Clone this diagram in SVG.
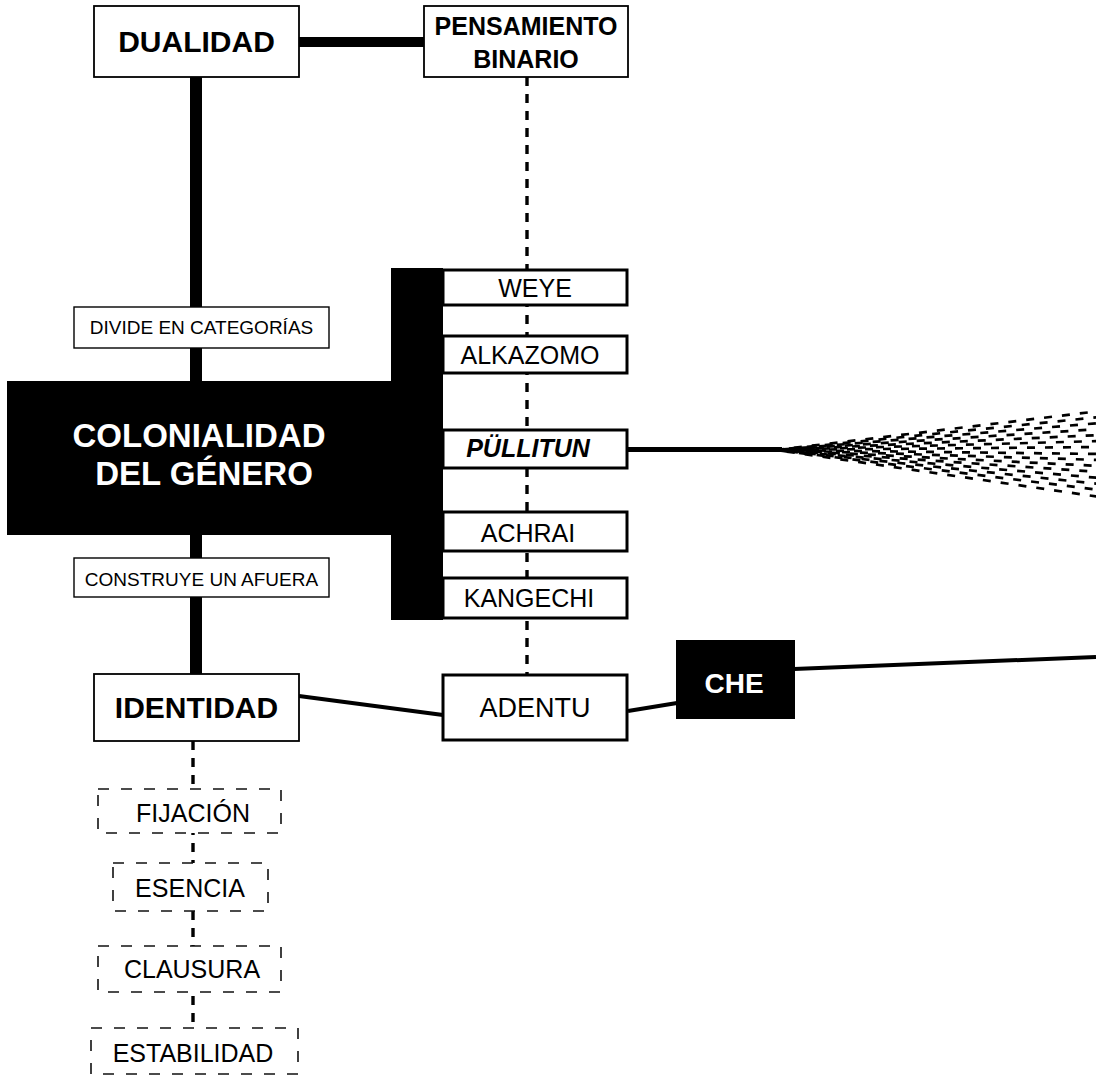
<svg xmlns="http://www.w3.org/2000/svg" width="1096" height="1079" viewBox="0 0 1096 1079">
  <style>
    text { font-family: "Liberation Sans", Arial, Helvetica, sans-serif; fill: #000; text-anchor: middle; }
    .b { font-weight: bold; }
    .w { fill: #fff; }
    .thin { fill: #fff; stroke: #000; stroke-width: 1.8; }
    .label { fill: #fff; stroke: #000; stroke-width: 1.4; }
    .item { fill: #fff; stroke: #000; stroke-width: 3; }
    .dbox { fill: #fff; stroke: #111; stroke-width: 1.6; stroke-dasharray: 11 12; }
    .solid { stroke: #000; fill: none; }
    .dash { stroke: #000; fill: none; stroke-width: 3.4; stroke-dasharray: 9 8; }
    .fan line { stroke: #000; stroke-width: 2.7; stroke-dasharray: 8 10; }
  </style>

  <!-- connectors -->
  <g id="connectors">
    <line class="solid" x1="299" y1="42" x2="424" y2="42" stroke-width="10"/>
    <line class="solid" x1="196" y1="77" x2="196" y2="674" stroke-width="12"/>
    <line class="dash" x1="527" y1="77" x2="527" y2="675"/>
    <line class="dash" x1="193" y1="741" x2="193" y2="1028" stroke-width="4"/>
    <line class="solid" x1="299" y1="696" x2="443" y2="715" stroke-width="4"/>
    <line class="solid" x1="628" y1="711" x2="677" y2="703" stroke-width="4"/>
    <line class="solid" x1="794" y1="669" x2="1096" y2="657" stroke-width="4"/>
    <line class="solid" x1="628" y1="449.5" x2="782" y2="449.5" stroke-width="5"/>
    <!-- spreading bundle of dashed rays -->
    <g class="fan">
      <line x1="776" y1="450" x2="1100" y2="411" stroke-dashoffset="0"/>
      <line x1="776" y1="450" x2="1100" y2="417" stroke-dashoffset="5"/>
      <line x1="776" y1="450" x2="1100" y2="423" stroke-dashoffset="11"/>
      <line x1="776" y1="450" x2="1100" y2="429" stroke-dashoffset="3"/>
      <line x1="776" y1="450" x2="1100" y2="435" stroke-dashoffset="14"/>
      <line x1="776" y1="450" x2="1100" y2="441" stroke-dashoffset="8"/>
      <line x1="776" y1="450" x2="1100" y2="447" stroke-dashoffset="1"/>
      <line x1="776" y1="450" x2="1100" y2="454" stroke-dashoffset="12"/>
      <line x1="776" y1="450" x2="1100" y2="460" stroke-dashoffset="6"/>
      <line x1="776" y1="450" x2="1100" y2="466" stroke-dashoffset="16"/>
      <line x1="776" y1="450" x2="1100" y2="472" stroke-dashoffset="2"/>
      <line x1="776" y1="450" x2="1100" y2="478" stroke-dashoffset="10"/>
      <line x1="776" y1="450" x2="1100" y2="484" stroke-dashoffset="4"/>
      <line x1="776" y1="450" x2="1100" y2="490" stroke-dashoffset="13"/>
      <line x1="776" y1="450" x2="1100" y2="497" stroke-dashoffset="7"/>
    </g>
  </g>

  <!-- top row -->
  <g id="dualidad">
    <rect class="thin" x="94" y="6" width="205" height="71"/>
    <text class="b" x="196.5" y="52" font-size="30">DUALIDAD</text>
  </g>
  <g id="pensamiento-binario">
    <rect class="thin" x="424" y="6" width="204" height="71"/>
    <text class="b" x="526" y="35" font-size="25">PENSAMIENTO</text>
    <text class="b" x="526" y="68" font-size="25">BINARIO</text>
  </g>

  <!-- labels on the main vertical -->
  <g id="divide">
    <rect class="label" x="74" y="307" width="255" height="41"/>
    <text x="201.5" y="334" font-size="19">DIVIDE EN CATEGORÍAS</text>
  </g>
  <g id="construye">
    <rect class="label" x="74" y="558" width="255" height="39"/>
    <text x="201.5" y="586" font-size="19">CONSTRUYE UN AFUERA</text>
  </g>

  <!-- central block -->
  <g id="colonialidad">
    <rect x="7" y="381" width="390" height="154" fill="#000"/>
    <rect x="391" y="268" width="52" height="352" fill="#000"/>
    <text class="b w" x="199" y="447" font-size="33">COLONIALIDAD</text>
    <text class="b w" x="204" y="485" font-size="33">DEL GÉNERO</text>
  </g>

  <!-- stacked terms -->
  <g id="weye">
    <rect class="item" x="443" y="270" width="184" height="35"/>
    <text x="535" y="297" font-size="25">WEYE</text>
  </g>
  <g id="alkazomo">
    <rect class="item" x="443" y="336" width="184" height="37"/>
    <text x="530" y="364" font-size="25">ALKAZOMO</text>
  </g>
  <g id="pullitun">
    <rect class="item" x="443" y="430" width="184" height="38"/>
    <text class="b" x="528" y="457" font-size="25" font-style="italic">PÜLLITUN</text>
  </g>
  <g id="achrai">
    <rect class="item" x="443" y="512" width="184" height="39"/>
    <text x="528" y="542" font-size="25">ACHRAI</text>
  </g>
  <g id="kangechi">
    <rect class="item" x="443" y="578" width="184" height="40"/>
    <text x="529" y="607" font-size="25">KANGECHI</text>
  </g>

  <!-- bottom row -->
  <g id="identidad">
    <rect class="thin" x="94" y="674" width="205" height="67"/>
    <text class="b" x="196.5" y="718" font-size="30">IDENTIDAD</text>
  </g>
  <g id="adentu">
    <rect class="item" x="443" y="675" width="184" height="65"/>
    <text x="535" y="717" font-size="27">ADENTU</text>
  </g>
  <g id="che">
    <rect x="676" y="640" width="119" height="79" fill="#000"/>
    <text class="b w" x="734" y="693" font-size="28">CHE</text>
  </g>

  <!-- dashed chain below identity -->
  <g id="fijacion">
    <rect class="dbox" x="98" y="789" width="183" height="44"/>
    <text x="193" y="822" font-size="25">FIJACIÓN</text>
  </g>
  <g id="esencia">
    <rect class="dbox" x="113" y="863" width="155" height="48"/>
    <text x="190" y="897" font-size="25">ESENCIA</text>
  </g>
  <g id="clausura">
    <rect class="dbox" x="98" y="946" width="183" height="46"/>
    <text x="192" y="978" font-size="25">CLAUSURA</text>
  </g>
  <g id="estabilidad">
    <rect class="dbox" x="91" y="1028" width="207" height="46"/>
    <text x="193" y="1062" font-size="25">ESTABILIDAD</text>
  </g>
</svg>
